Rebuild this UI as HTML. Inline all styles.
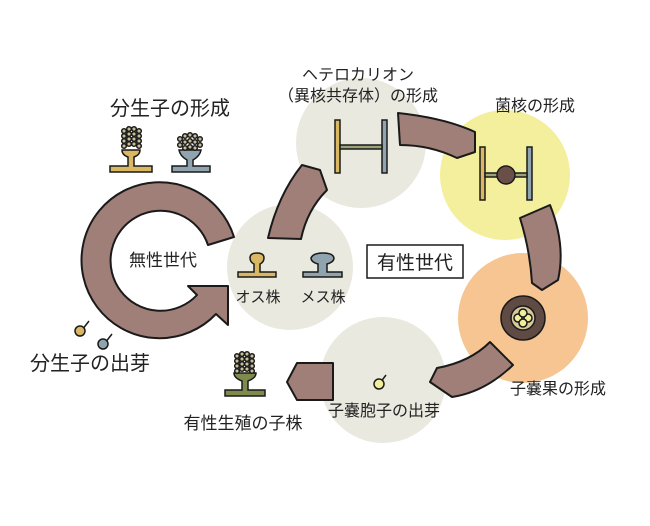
<!DOCTYPE html>
<html><head><meta charset="utf-8"><style>
body{margin:0;background:#fff;width:650px;height:521px;overflow:hidden}
text{font-family:"Liberation Sans","Noto Sans CJK JP",sans-serif;fill:#222}
</style></head><body>
<svg width="650" height="521" viewBox="0 0 650 521" xmlns="http://www.w3.org/2000/svg">
<defs>
<g id="dots">
<circle cx="0" cy="0" r="2.3"/><circle cx="0" cy="5" r="2.3"/><circle cx="0" cy="10" r="2.3"/><circle cx="0" cy="15" r="2.3"/>
</g>
</defs>
<circle cx="361" cy="143" r="65" fill="#e9e9df"/>
<circle cx="290" cy="267" r="63" fill="#e9e9df"/>
<circle cx="383" cy="380" r="63" fill="#e9e9df"/>
<circle cx="505" cy="175" r="65" fill="#f3ef9c"/>
<circle cx="523" cy="318" r="65" fill="#f6c592"/>

<g fill="#a07f79" stroke="#1a1a1a" stroke-width="2" stroke-linejoin="round">
<path d="M234,237 A78,78 0 1 0 216,314 L228,325 L228,286 L188,286 L197,295 A50,50 0 1 1 208,245 Z"/>
<path d="M268,238 Q278,195 302,165 L320,170 L327,190 Q307,210 301,239 Z"/>
<path d="M398,113 Q445,118 475,132 L475,152 L457,158 Q430,145 400,145 Z"/>
<path d="M520,218 L550,205 Q566,245 558,280 L542,290 L532,283 Q530,250 520,218 Z"/>
<path d="M490,342 L513,365 Q485,392 452,397 L430,382 L437,368 Q470,362 490,342 Z"/>
<path d="M297,363 L333,363 L333,400 L297,400 L287,382 Z"/>
</g>

<g stroke="#1a1a1a" stroke-width="1.5">
<path d="M110,166 H128 V157 Q122,155 122,150 H140 Q140,155 134,157 V166 H152 V172 H110 Z" fill="#d9b763"/>
<g fill="#c8bf9a"><use href="#dots" x="124" y="131"/><use href="#dots" x="129" y="129"/><use href="#dots" x="134" y="129"/><use href="#dots" x="139" y="131"/></g>
<path d="M172,166 H187 V160 Q180,156 179,150 H201 Q200,156 193,160 V166 H210 V172 H172 Z" fill="#8fa4ae"/>
<g fill="#c8bf9a"><circle cx="180" cy="139" r="2.3"/><circle cx="180" cy="145" r="2.3"/><circle cx="185" cy="136" r="2.3"/><circle cx="185" cy="142" r="2.3"/><circle cx="185" cy="148" r="2.3"/><circle cx="190" cy="135" r="2.3"/><circle cx="190" cy="141" r="2.3"/><circle cx="190" cy="147" r="2.3"/><circle cx="195" cy="136" r="2.3"/><circle cx="195" cy="142" r="2.3"/><circle cx="195" cy="148" r="2.3"/><circle cx="200" cy="139" r="2.3"/><circle cx="200" cy="145" r="2.3"/></g>
<path d="M238,272 H254 V264 Q250,262 250,258 Q250,253 257,253 Q264,253 264,258 Q264,262 260,264 V272 H276 V277 H238 Z" fill="#d9b763"/>
<path d="M303,272 H318 V264 Q311,262 311,258 Q313,253 323,253 Q333,253 334,258 Q334,262 327,264 V272 H342 V277 H303 Z" fill="#8fa4ae"/>
<path d="M225,390 H242 V381 Q234,378 234,373 H256 Q256,378 248,381 V390 H265 V396 H225 Z" fill="#7e8b4c"/>
<g fill="#c8bf9a"><use href="#dots" x="237" y="356"/><use href="#dots" x="242" y="354"/><use href="#dots" x="247" y="354"/><use href="#dots" x="252" y="356"/></g>
<line x1="82" y1="330" x2="89" y2="321"/><circle cx="80" cy="331" r="5" fill="#d9b763"/>
<line x1="105" y1="343" x2="112" y2="334"/><circle cx="103" cy="344" r="5" fill="#8fa4ae"/>
<line x1="380" y1="383" x2="386" y2="375"/><circle cx="379" cy="384" r="5" fill="#f2ef9a"/>
<rect x="335" y="120" width="5" height="53" fill="#d9b763"/>
<rect x="382" y="120" width="5" height="53" fill="#8fa4ae"/>
<rect x="340" y="145" width="42" height="4" fill="#9aa27a"/>
<rect x="480" y="147" width="5" height="53" fill="#d9b763"/>
<rect x="527" y="147" width="5" height="53" fill="#8fa4ae"/>
<rect x="485" y="173" width="42" height="4" fill="#9aa27a"/>
<circle cx="506" cy="175" r="9" fill="#6a4f48"/>
<circle cx="523" cy="318" r="22" fill="#5f4a44"/>
<circle cx="523" cy="318" r="12" fill="#d8c99a"/>
<circle cx="518" cy="318" r="4" fill="#f2ef9a"/><circle cx="528" cy="318" r="4" fill="#f2ef9a"/>
<circle cx="523" cy="313" r="4" fill="#f2ef9a"/><circle cx="523" cy="323" r="4" fill="#f2ef9a"/>
</g>

<rect x="367" y="245" width="96" height="33" fill="#fff" stroke="#1a1a1a" stroke-width="1.5"/>
<text x="415" y="269" font-size="19" text-anchor="middle">有性世代</text>
<text x="170" y="115" font-size="20" text-anchor="middle">分生子の形成</text>
<text x="163" y="266" font-size="17" text-anchor="middle">無性世代</text>
<text x="258" y="302" font-size="15" text-anchor="middle">オス株</text>
<text x="323" y="302" font-size="15" text-anchor="middle">メス株</text>
<text x="90" y="370" font-size="20" text-anchor="middle">分生子の出芽</text>
<text x="243" y="429" font-size="17" text-anchor="middle">有性生殖の子株</text>
<text x="384" y="416" font-size="16" text-anchor="middle">子嚢胞子の出芽</text>
<text x="558" y="394" font-size="16" text-anchor="middle">子嚢果の形成</text>
<text x="535" y="111" font-size="16" text-anchor="middle">菌核の形成</text>
<text x="358" y="80" font-size="16" text-anchor="middle">ヘテロカリオン</text>
<text x="358" y="101" font-size="16" text-anchor="middle">（異核共存体）の形成</text>
</svg>
</body></html>
